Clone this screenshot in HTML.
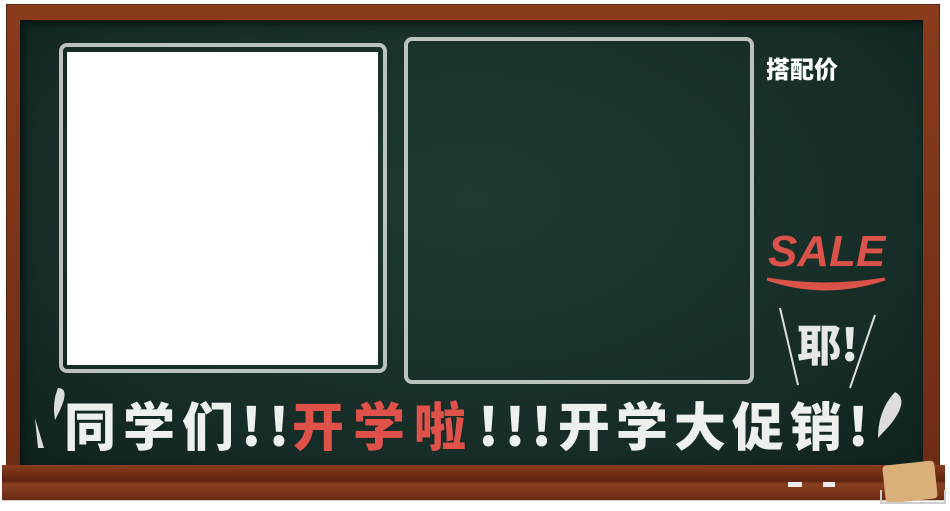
<!DOCTYPE html>
<html><head><meta charset="utf-8"><style>
body{margin:0;width:950px;height:511px;background:#fff;position:relative;overflow:hidden;font-family:"Liberation Sans","Noto Sans CJK SC",sans-serif}
div{position:absolute;box-sizing:border-box}
.chalk{border:4px solid #d9dcd8;border-radius:8px;opacity:.85}
.t{font-weight:900;font-size:52px;color:#eef0ee;white-space:nowrap;top:394px;line-height:60px;font-family:"WenQuanYi Zen Hei","Noto Sans CJK SC",sans-serif}
</style></head><body>
<div style="left:6px;top:4px;width:934px;height:470px;background:linear-gradient(#8a3c1c,#6e2c14);border:1px solid #5a2410"></div>
<div style="left:20px;top:20px;width:903px;height:445px;background:radial-gradient(ellipse at 50% 40%,#1f3a33,#162c27 70%,#10221e);box-shadow:inset 4px 4px 8px #0a1512"></div>
<div class="chalk" style="left:59px;top:43px;width:328px;height:330px"></div>
<div style="left:67px;top:52px;width:311px;height:313px;background:#fff"></div>
<div class="chalk" style="left:404px;top:37px;width:350px;height:347px"></div>
<div style="left:766px;top:50px;font-size:24px;font-weight:900;color:#fff;font-family:'WenQuanYi Zen Hei','Noto Sans CJK SC',sans-serif">搭配价</div>
<div style="left:768px;top:224px;font-size:44px;font-weight:700;font-style:italic;color:#d9534a;letter-spacing:0px;line-height:56px">SALE</div>
<svg style="position:absolute;left:765px;top:275px" width="125" height="25"><path d="M2 4 Q60 24 120 4 Q60 14 2 4Z" fill="#d9534a" stroke="#d9534a" stroke-width="3"/></svg>
<svg style="position:absolute;left:770px;top:300px" width="120" height="95"><line x1="10" y1="8" x2="28" y2="85" stroke="#ddd" stroke-width="2"/><line x1="105" y1="15" x2="80" y2="88" stroke="#ddd" stroke-width="2"/></svg>
<div style="left:797px;top:310px;font-size:44px;font-weight:900;color:#e6e8e6;font-family:'WenQuanYi Zen Hei','Noto Sans CJK SC',sans-serif">耶!</div>
<svg style="position:absolute;left:30px;top:380px" width="880" height="70"><path d="M28 8 Q40 8 30 30 L25 40 Q22 22 28 8Z" fill="#ddd"/><path d="M5 38 L14 68 L8 68Z" fill="#ddd"/><path d="M865 12 Q880 20 860 45 L848 58 Q848 30 865 12Z" fill="#ddd"/></svg>
<div class="t" style="left:64px;letter-spacing:7px">同学们!!</div>
<div class="t" style="left:292px;color:#e0514a;letter-spacing:9px">开学啦</div>
<div class="t" style="left:478px;letter-spacing:6px">!!!开学大促销!</div>
<div style="left:2px;top:465px;width:943px;height:36px;background:linear-gradient(#8a3c1c,#5e2410 45%,#8a4020 55%,#6a2a12);border-bottom:1px solid #ccc"></div>
<div style="left:788px;top:482px;width:14px;height:5px;background:#eee"></div>
<div style="left:823px;top:482px;width:12px;height:5px;background:#eee"></div>
<div style="left:884px;top:463px;width:52px;height:38px;background:#d9b07a;border-radius:4px;transform:rotate(-6deg)"></div>
<div style="left:880px;top:490px;width:66px;height:14px;border:2px solid #ccc;border-top:none"></div>
</body></html>
